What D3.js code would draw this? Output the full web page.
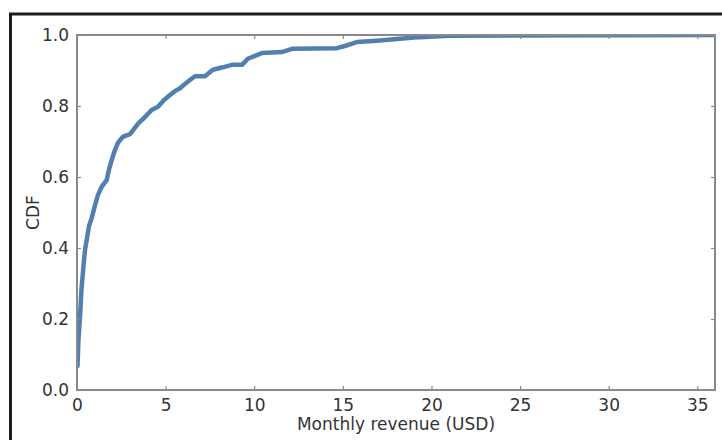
<!DOCTYPE html>
<html>
<head>
<meta charset="utf-8">
<script src="https://cdn.jsdelivr.net/npm/d3@7"></script>
<style>
  html, body { margin: 0; padding: 0; background: #fff; }
  svg { display: block; }
  text { font-family: "DejaVu Sans", sans-serif; fill: #333; }
</style>
</head>
<body>
<svg id="chart" width="722" height="440"></svg>
<script>
// Empirical CDF of monthly revenue per user
const revenue = [0.03, 0.08, 0.17, 0.25, 0.36, 0.45, 0.55, 0.68, 0.83, 1.02, 1.18, 1.39, 1.68, 1.80, 1.96,
  2.14, 2.31, 2.43, 2.61, 2.99, 3.21, 3.46, 3.84, 4.21, 4.57, 4.91, 5.25, 5.53, 5.81, 6.09, 6.37, 6.66,
  7.22, 7.67, 8.23, 8.74, 9.31, 9.64, 10.04, 10.43, 11.56, 12.13, 14.66, 15.11, 15.79, 16.92, 18.05,
  19.35, 21.04, 36];
const cdf = [0.068, 0.141, 0.206, 0.282, 0.346, 0.394, 0.423, 0.462, 0.485, 0.521, 0.549, 0.572, 0.592, 0.620, 0.648,
  0.676, 0.696, 0.704, 0.714, 0.721, 0.735, 0.751, 0.769, 0.789, 0.798, 0.817, 0.831, 0.842, 0.850, 0.862, 0.873, 0.884,
  0.884, 0.902, 0.909, 0.916, 0.916, 0.933, 0.941, 0.949, 0.952, 0.961, 0.963, 0.969, 0.980, 0.984, 0.989,
  0.994, 0.998, 1.0];
const xTicks = [0, 5, 10, 15, 20, 25, 30, 35];
const yTicks = [0.0, 0.2, 0.4, 0.6, 0.8, 1.0];

const svg = d3.select("#chart");
const plotLeft = 77, plotRight = 715, plotTop = 35, plotBottom = 390;

const x = d3.scaleLinear().domain([0, 36]).range([plotLeft, plotRight]);
const y = d3.scaleLinear().domain([0, 1]).range([plotBottom, plotTop]);

// outer frame
svg.append("rect")
  .attr("x", 10.5).attr("y", 14).attr("width", 730).attr("height", 460)
  .attr("fill", "none").attr("stroke", "#1c1c1c").attr("stroke-width", 3);

svg.append("clipPath").attr("id", "plot-clip")
  .append("rect").attr("x", plotLeft).attr("y", plotTop)
  .attr("width", plotRight - plotLeft).attr("height", plotBottom - plotTop);

const points = revenue.map((v, i) => [v, cdf[i]]);
svg.append("path")
  .datum(points)
  .attr("clip-path", "url(#plot-clip)")
  .attr("fill", "none")
  .attr("stroke", "#5180b0")
  .attr("stroke-width", 4.5)
  .attr("stroke-linejoin", "round")
  .attr("stroke-linecap", "round")
  .attr("d", d3.line().x(d => x(d[0])).y(d => y(d[1])));

const fmtY = d3.format(".1f");
const tickLen = 4;
const spine = "#8a8a8a";

// bottom axis with inward ticks
const bottomAxis = svg.append("g").attr("transform", `translate(0,${plotBottom})`)
  .call(d3.axisBottom(x).tickValues(xTicks).tickSize(-tickLen).tickPadding(9).tickFormat(d3.format("d")));
// top ticks
const topAxis = svg.append("g").attr("transform", `translate(0,${plotTop})`)
  .call(d3.axisTop(x).tickValues(xTicks).tickSize(-tickLen).tickFormat(""));
// left axis
const leftAxis = svg.append("g").attr("transform", `translate(${plotLeft},0)`)
  .call(d3.axisLeft(y).tickValues(yTicks).tickSize(-tickLen).tickPadding(8).tickFormat(fmtY));
// right ticks
const rightAxis = svg.append("g").attr("transform", `translate(${plotRight},0)`)
  .call(d3.axisRight(y).tickValues(yTicks).tickSize(-tickLen).tickFormat(""));

[bottomAxis, topAxis, leftAxis, rightAxis].forEach(g => {
  g.select(".domain").remove();
  g.selectAll(".tick line").attr("stroke", spine).attr("stroke-width", 1.2);
  g.selectAll(".tick text")
    .attr("font-family", "DejaVu Sans, sans-serif")
    .attr("font-size", 17).attr("fill", "#333");
});

// spines drawn over the line
svg.append("rect")
  .attr("x", plotLeft).attr("y", plotTop).attr("width", plotRight - plotLeft).attr("height", plotBottom - plotTop)
  .attr("fill", "none").attr("stroke", spine).attr("stroke-width", 2);

svg.append("text")
  .attr("x", (plotLeft + plotRight) / 2).attr("y", 430)
  .attr("text-anchor", "middle").attr("font-size", 17)
  .text("Monthly revenue (USD)");

svg.append("text")
  .attr("transform", `translate(39,${(plotTop + plotBottom) / 2}) rotate(-90)`)
  .attr("text-anchor", "middle").attr("font-size", 17)
  .text("CDF");
</script>
</body>
</html>
